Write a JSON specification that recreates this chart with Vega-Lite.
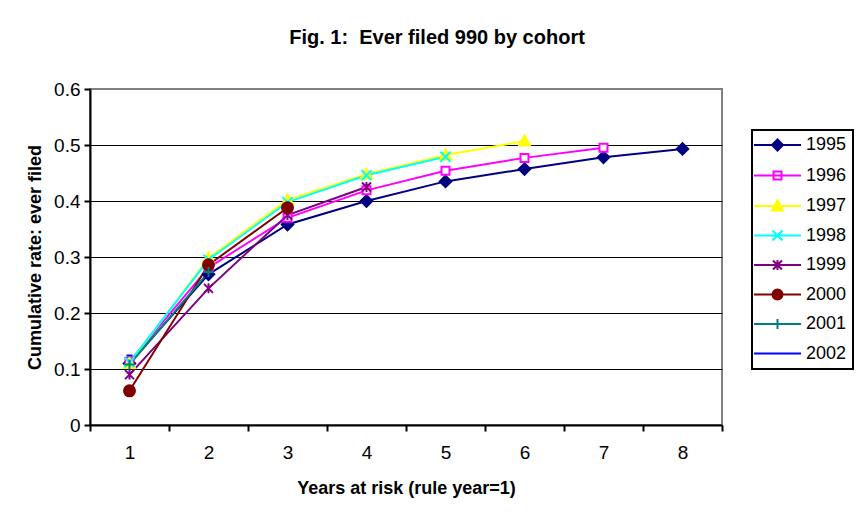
{
  "$schema": "https://vega.github.io/schema/vega-lite/v6.json",
  "width": 632,
  "height": 336,
  "autosize": {"type": "none"},
  "padding": {"left": 90, "top": 89, "right": 135, "bottom": 102},
  "background": "white",
  "config": {
    "view": {"stroke": "#808080", "strokeWidth": 2},
    "font": "Liberation Sans",
    "legend": {
      "padding": 6,
      "strokeColor": "black",
      "strokeWidth": 2,
      "symbolSize": 100,
      "symbolStrokeWidth": 2,
      "symbolOpacity": 1,
      "labelFont": "Liberation Sans",
      "labelFontSize": 18,
      "labelColor": "black",
      "labelOffset": 30,
      "rowPadding": 11.5
    }
  },
  "title": {
    "text": "Fig. 1:\u00a0 Ever filed 990 by cohort",
    "font": "Liberation Sans",
    "fontSize": 20,
    "fontWeight": "bold",
    "color": "black",
    "anchor": "middle",
    "dx": 31,
    "offset": 32
  },
  "data": {
    "values": [
      {"cohort": "1995", "year": 1, "rate": 0.110},
      {"cohort": "1995", "year": 2, "rate": 0.269},
      {"cohort": "1995", "year": 3, "rate": 0.358},
      {"cohort": "1995", "year": 4, "rate": 0.400},
      {"cohort": "1995", "year": 5, "rate": 0.435},
      {"cohort": "1995", "year": 6, "rate": 0.457},
      {"cohort": "1995", "year": 7, "rate": 0.478},
      {"cohort": "1995", "year": 8, "rate": 0.493},
      {"cohort": "1996", "year": 1, "rate": 0.113},
      {"cohort": "1996", "year": 2, "rate": 0.281},
      {"cohort": "1996", "year": 3, "rate": 0.370},
      {"cohort": "1996", "year": 4, "rate": 0.419},
      {"cohort": "1996", "year": 5, "rate": 0.454},
      {"cohort": "1996", "year": 6, "rate": 0.477},
      {"cohort": "1996", "year": 7, "rate": 0.495},
      {"cohort": "1997", "year": 1, "rate": 0.110},
      {"cohort": "1997", "year": 2, "rate": 0.298},
      {"cohort": "1997", "year": 3, "rate": 0.402},
      {"cohort": "1997", "year": 4, "rate": 0.448},
      {"cohort": "1997", "year": 5, "rate": 0.482},
      {"cohort": "1997", "year": 6, "rate": 0.507},
      {"cohort": "1998", "year": 1, "rate": 0.112},
      {"cohort": "1998", "year": 2, "rate": 0.295},
      {"cohort": "1998", "year": 3, "rate": 0.398},
      {"cohort": "1998", "year": 4, "rate": 0.446},
      {"cohort": "1998", "year": 5, "rate": 0.479},
      {"cohort": "1999", "year": 1, "rate": 0.090},
      {"cohort": "1999", "year": 2, "rate": 0.244},
      {"cohort": "1999", "year": 3, "rate": 0.375},
      {"cohort": "1999", "year": 4, "rate": 0.425},
      {"cohort": "2000", "year": 1, "rate": 0.061},
      {"cohort": "2000", "year": 2, "rate": 0.286},
      {"cohort": "2000", "year": 3, "rate": 0.388},
      {"cohort": "2001", "year": 1, "rate": 0.108},
      {"cohort": "2001", "year": 2, "rate": 0.273},
      {"cohort": "2002", "year": 1, "rate": 0.124}
    ]
  },
  "layer": [
    {
      "mark": {"type": "line", "strokeWidth": 2},
      "encoding": {
        "x": {
          "field": "year",
          "type": "ordinal",
          "scale": {"type": "band", "paddingInner": 0, "paddingOuter": 0},
          "axis": {
            "title": "Years at risk (rule year=1)",
            "labelAngle": 0,
            "tickBand": "extent",
            "tickSize": 6,
            "tickWidth": 2,
            "tickColor": "black",
            "domainColor": "black",
            "domainWidth": 2,
            "labelFont": "Liberation Sans",
            "labelFontSize": 19,
            "labelColor": "black",
            "labelPadding": 12,
            "titleFont": "Liberation Sans",
            "titleFontSize": 18,
            "titleFontWeight": "bold",
            "titleColor": "black",
            "titlePadding": 17,
            "grid": false
          }
        },
        "y": {
          "field": "rate",
          "type": "quantitative",
          "scale": {"domain": [0, 0.6], "nice": false},
          "axis": {
            "title": "Cumulative rate: ever filed",
            "values": [0, 0.1, 0.2, 0.3, 0.4, 0.5, 0.6],
            "format": ".1~f",
            "grid": true,
            "gridColor": {"condition": {"test": "datum.value >= 0.6", "value": "#808080"}, "value": "black"},
            "gridWidth": 1,
            "tickSize": 6,
            "tickWidth": 2,
            "tickColor": "black",
            "domainColor": "black",
            "domainWidth": 2,
            "labelFont": "Liberation Sans",
            "labelFontSize": 19,
            "labelColor": "black",
            "labelPadding": 4,
            "titleFont": "Liberation Sans",
            "titleFontSize": 18,
            "titleFontWeight": "bold",
            "titleColor": "black",
            "titlePadding": 9
          }
        },
        "stroke": {
          "field": "cohort",
          "type": "nominal",
          "scale": {
            "domain": ["1995", "1996", "1997", "1998", "1999", "2000", "2001", "2002"],
            "range": ["#000080", "#FF00FF", "#FFFF00", "#00FFFF", "#800080", "#800000", "#008080", "#0000FF"]
          },
          "legend": null
        }
      }
    },
    {
      "mark": {"type": "point", "opacity": 1, "size": 100, "strokeWidth": 2},
      "encoding": {
        "x": {"field": "year", "type": "ordinal"},
        "y": {"field": "rate", "type": "quantitative"},
        "shape": {
          "field": "cohort",
          "type": "nominal",
          "scale": {
            "domain": ["1995", "1996", "1997", "1998", "1999", "2000", "2001", "2002"],
            "range": [
              "M0,-1.15L1.15,0L0,1.15L-1.15,0Z",
              "M-0.8,-0.8H0.8V0.8H-0.8Z",
              "M0,-1.1L1.1,0.9L-1.1,0.9Z",
              "M-1,-1L1,1M-1,1L1,-1",
              "M-0.9,-0.9L0.9,0.9M-0.9,0.9L0.9,-0.9M0,-1V1",
              "M-1.1,0A1.1,1.1 0 1,0 1.1,0A1.1,1.1 0 1,0 -1.1,0Z",
              "M-1,0H1M0,-1V1",
              "M-0.6,0H0.6"
            ]
          },
          "legend": null
        },
        "fill": {
          "field": "cohort",
          "type": "nominal",
          "scale": {
            "domain": ["1995", "1996", "1997", "1998", "1999", "2000", "2001", "2002"],
            "range": ["#000080", "white", "#FFFF00", "transparent", "transparent", "#800000", "transparent", "transparent"]
          },
          "legend": null
        },
        "stroke": {
          "field": "cohort",
          "type": "nominal",
          "scale": {
            "domain": ["1995", "1996", "1997", "1998", "1999", "2000", "2001", "2002"],
            "range": ["#000080", "#FF00FF", "#FFFF00", "#00FFFF", "#800080", "#800000", "#008080", "#0000FF"]
          },
          "legend": null
        }
      }
    },
    {
      "data": {
        "values": [
          {"series": "1995"}, {"series": "1996"}, {"series": "1997"}, {"series": "1998"},
          {"series": "1999"}, {"series": "2000"}, {"series": "2001"}, {"series": "2002"}
        ]
      },
      "mark": {"type": "point", "opacity": 0, "size": 100, "strokeWidth": 2},
      "encoding": {
        "shape": {
          "field": "series",
          "type": "nominal",
          "scale": {
            "domain": ["1995", "1996", "1997", "1998", "1999", "2000", "2001", "2002"],
            "range": [
              "M-2.6,0H6.8M2.1,-1.1L3.2,0L2.1,1.1L1,0Z",
              "M-2.6,0H6.8M1.3,-0.8H2.9V0.8H1.3Z",
              "M-2.6,0H6.8M2.1,-1.1L3.2,0.9L1,0.9Z",
              "M-2.6,0H6.8M1.1,-1L3.1,1M1.1,1L3.1,-1",
              "M-2.6,0H6.8M1.2,-0.9L3,0.9M1.2,0.9L3,-0.9M2.1,-1V1",
              "M-2.6,0H6.8M1.1,0A1,1 0 1,0 3.1,0A1,1 0 1,0 1.1,0Z",
              "M-2.6,0H6.8M2.1,-1V1",
              "M-2.6,0H6.8"
            ]
          },
          "legend": {"title": null, "orient": "none", "legendX": 662, "legendY": 41}
        },
        "fill": {
          "field": "series",
          "type": "nominal",
          "scale": {
            "domain": ["1995", "1996", "1997", "1998", "1999", "2000", "2001", "2002"],
            "range": ["#000080", "white", "#FFFF00", "transparent", "transparent", "#800000", "transparent", "transparent"]
          },
          "legend": {"title": null, "orient": "none", "legendX": 662, "legendY": 41}
        },
        "stroke": {
          "field": "series",
          "type": "nominal",
          "scale": {
            "domain": ["1995", "1996", "1997", "1998", "1999", "2000", "2001", "2002"],
            "range": ["#000080", "#FF00FF", "#FFFF00", "#00FFFF", "#800080", "#800000", "#008080", "#0000FF"]
          },
          "legend": {"title": null, "orient": "none", "legendX": 662, "legendY": 41}
        }
      }
    }
  ],
  "resolve": {
    "scale": {"shape": "independent", "fill": "independent", "stroke": "independent"}
  }
}
